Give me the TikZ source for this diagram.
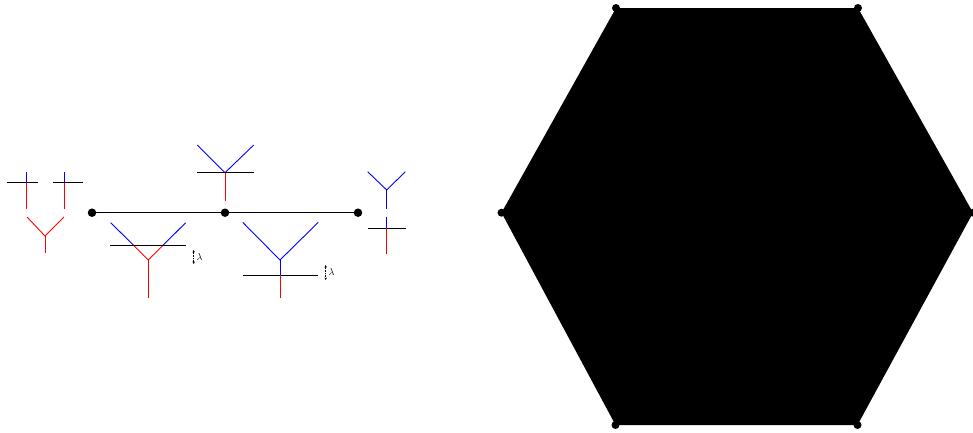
\documentclass[tikz,border=0pt]{standalone}
\usetikzlibrary{arrows.meta}
\begin{document}
\begin{tikzpicture}[x=1pt,y=-1pt,
  bl/.style={blue,line width=0.9pt},
  rd/.style={red,line width=0.9pt},
  bk/.style={black,line width=0.9pt},
  dotnode/.style={circle,fill=black,inner sep=0pt,minimum size=8.5pt},
  lam/.style={densely dotted,line width=0.6pt,{Stealth[length=2.5pt,width=2.5pt]}-{Stealth[length=2.5pt,width=2.5pt]}},
  lamlabel/.style={font=\normalsize,inner sep=0pt,anchor=west}]
\useasboundingbox (0,0) rectangle (973,432);
% ---------- left: chain of three dots
\node[dotnode] (d1) at (92,212.7) {};
\node[dotnode] (d2) at (225,212.7) {};
\node[dotnode] (d3) at (358,212.7) {};
\draw[line width=1pt] (d1) -- (d2) -- (d3);
% ---------- far left trees
\draw[bk] (7,182.7) -- (38,182.7);
\draw[bl] (26,172) -- (26,182.7);
\draw[rd] (26,182.7) -- (26,209);
\draw[bk] (53,182.7) -- (83,182.7);
\draw[bl] (64,172) -- (64,182.7);
\draw[rd] (64,182.7) -- (64,209);
\draw[rd] (27,217) -- (45,236) -- (64,217);
\draw[rd] (45,236) -- (45,253);
% ---------- above middle dot
\draw[bl] (197.3,145) -- (225,172.7) -- (253.7,145);
\draw[bk] (197,172.7) -- (253.7,172.7);
\draw[rd] (225,172.7) -- (225,201);
% ---------- below first edge
\draw[bl] (110.7,222.7) -- (133.3,245);
\draw[bl] (185.7,222.7) -- (163.3,245);
\draw[rd] (133.3,245) -- (148.3,260) -- (163.3,245);
\draw[rd] (148.3,260) -- (148.3,297.7);
\draw[bk] (110.3,245) -- (186,245);
\draw[lam] (193.7,250) -- (193.7,264);
\node[lamlabel] (l1) at (196.5,257.5) {$\lambda$};
% ---------- below second edge
\draw[bl] (242.7,222.3) -- (280,260) -- (318.3,222.3);
\draw[bl] (280,260) -- (280,275);
\draw[bk] (242.7,275) -- (318.3,275);
\draw[rd] (280,275) -- (280,297.7);
\draw[lam] (325.7,265) -- (325.7,280);
\node[lamlabel] (l2) at (328.5,272.5) {$\lambda$};
% ---------- right of last dot
\draw[bl] (367.7,171.7) -- (386.7,190) -- (405.3,171.7);
\draw[bl] (386.7,190) -- (386.7,209);
\draw[bl] (386.7,216.7) -- (386.7,228.3);
\draw[bk] (367.7,228.3) -- (405.7,228.3);
\draw[rd] (386.7,228.3) -- (386.7,254.3);
% ---------- hexagon
\coordinate (h1) at (616,8);
\coordinate (h2) at (858,8);
\coordinate (h3) at (973,212.7);
\coordinate (h4) at (857.5,425);
\coordinate (h5) at (615.5,425);
\coordinate (h6) at (501.5,212.7);
\fill[black] (h1) -- (h2) -- (h3) -- (h4) -- (h5) -- (h6) -- cycle;
\foreach \p in {h1,h2,h3,h4,h5,h6} \fill (\p) circle (4pt);
\end{tikzpicture}
\end{document}
